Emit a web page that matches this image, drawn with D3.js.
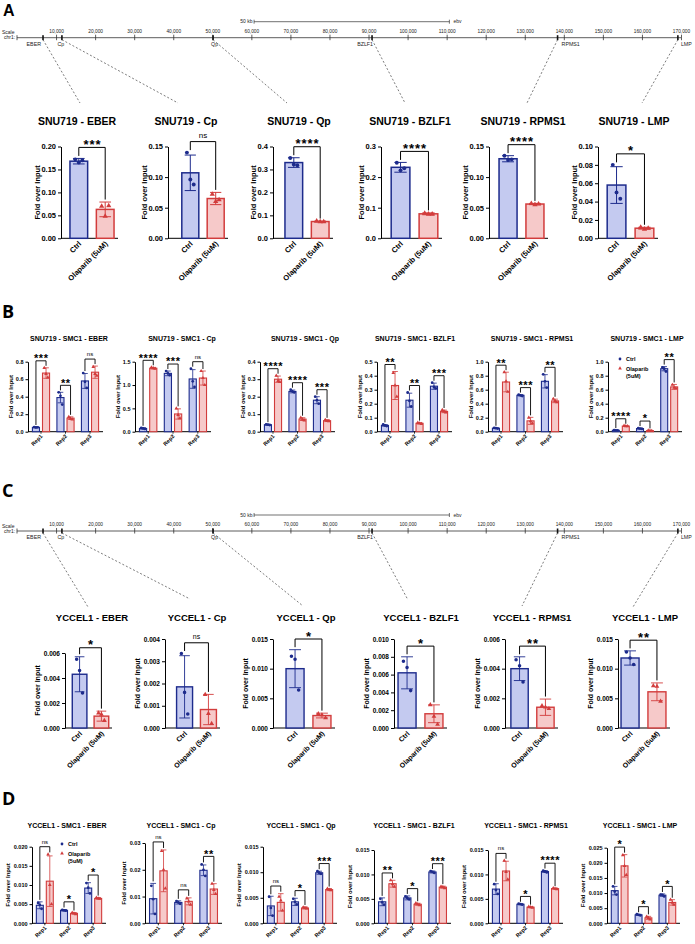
<!DOCTYPE html>
<html>
<head>
<meta charset="utf-8">
<script src="https://cdn.jsdelivr.net/npm/d3@7/dist/d3.min.js"></script>
<style>
  body { margin: 0; background: #fff; }
  svg text { font-family: "Liberation Sans", Arial, Helvetica, sans-serif; }
</style>
</head>
<body>
<svg id="fig" width="695" height="944"></svg>
<script>
// ---- genome track ----
const genes = ["EBER", "Cp", "Qp", "BZLF1", "RPMS1", "LMP"];
const genePos = [6660, 11500, 50200, 90900, 138400, 169200];
const trackTicks = [10000, 20000, 30000, 40000, 50000, 60000, 70000, 80000, 90000,
  100000, 110000, 120000, 130000, 140000, 150000, 160000, 170000];
const scaleBar = [60700, 110700];

const conditions = ["Ctrl", "Olaparib (5uM)"];
const reps = ["Rep1", "Rep2", "Rep3"];

// ---- A: SNU719 ChIP ----
const aMax = [0.20, 0.15, 0.4, 0.3, 0.15, 0.10];
const aStep = [0.05, 0.05, 0.1, 0.1, 0.05, 0.02];
const aCtrlMean = [0.168, 0.107, 0.330, 0.232, 0.130, 0.058];
const aCtrlSd = [0.006, 0.029, 0.021, 0.016, 0.005, 0.020];
const aCtrlPts = [[0.172, 0.165, 0.170], [0.140, 0.096, 0.088], [0.350, 0.322, 0.318],
  [0.247, 0.222, 0.229], [0.135, 0.128, 0.129], [0.080, 0.050, 0.043]];
const aOlapMean = [0.063, 0.065, 0.073, 0.080, 0.056, 0.011];
const aOlapSd = [0.016, 0.010, 0.002, 0.003, 0.001, 0.001];
const aOlapPts = [[0.070, 0.048, 0.071], [0.072, 0.060, 0.063], [0.075, 0.072, 0.072],
  [0.082, 0.079, 0.079], [0.057, 0.055, 0.056], [0.012, 0.010, 0.011]];
const aSig = ["***", "ns", "****", "****", "****", "*"];

// ---- B: SNU719 SMC1 ----
const bMax = [0.8, 1.5, 0.4, 0.5, 1.0, 1.0];
const bStep = [0.2, 0.5, 0.1, 0.1, 0.2, 0.2];
const bCtrlMean = [[0.05, 0.39, 0.58], [0.07, 1.25, 1.13], [0.04, 0.23, 0.18],
  [0.045, 0.225, 0.325], [0.05, 0.52, 0.72], [0.02, 0.045, 0.90]];
const bCtrlSd = [[0.004, 0.06, 0.085], [0.015, 0.05, 0.20], [0.003, 0.008, 0.02],
  [0.006, 0.05, 0.022], [0.006, 0.01, 0.095], [0.003, 0.007, 0.03]];
const bCtrlPts = [
  [[0.052, 0.048, 0.050], [0.45, 0.41, 0.31], [0.67, 0.57, 0.50]],
  [[0.08, 0.07, 0.06], [1.30, 1.25, 1.21], [1.35, 1.08, 0.96]],
  [[0.042, 0.040, 0.038], [0.24, 0.23, 0.225], [0.20, 0.18, 0.16]],
  [[0.052, 0.045, 0.040], [0.28, 0.22, 0.18], [0.35, 0.32, 0.31]],
  [[0.055, 0.050, 0.045], [0.53, 0.52, 0.51], [0.82, 0.72, 0.63]],
  [[0.022, 0.020, 0.018], [0.050, 0.045, 0.040], [0.92, 0.90, 0.86]]];
const bOlapMean = [[0.67, 0.155, 0.68], [1.36, 0.38, 1.15], [0.30, 0.072, 0.063],
  [0.33, 0.06, 0.145], [0.71, 0.155, 0.44], [0.08, 0.015, 0.64]];
const bOlapSd = [[0.06, 0.015, 0.07], [0.015, 0.11, 0.15], [0.018, 0.008, 0.005],
  [0.10, 0.005, 0.009], [0.14, 0.05, 0.025], [0.005, 0.004, 0.035]];
const bOlapPts = [
  [[0.73, 0.66, 0.62], [0.17, 0.15, 0.14], [0.74, 0.66, 0.64]],
  [[1.38, 1.36, 1.35], [0.50, 0.36, 0.29], [1.30, 1.15, 1.00]],
  [[0.32, 0.29, 0.285], [0.080, 0.070, 0.065], [0.068, 0.062, 0.060]],
  [[0.42, 0.33, 0.25], [0.065, 0.060, 0.055], [0.155, 0.145, 0.138]],
  [[0.85, 0.72, 0.57], [0.20, 0.15, 0.12], [0.47, 0.44, 0.42]],
  [[0.085, 0.080, 0.078], [0.018, 0.015, 0.012], [0.67, 0.63, 0.62]]];
const bSig = [["***", "**", "ns"], ["****", "***", "ns"], ["****", "****", "***"],
  ["**", "**", "***"], ["**", "***", "**"], ["****", "*", "**"]];

// ---- C: YCCEL1 ChIP ----
const cMax = [0.006, 0.004, 0.015, 0.010, 0.006, 0.015];
const cStep = [0.002, 0.001, 0.005, 0.002, 0.002, 0.005];
const cCtrlMean = [0.0043, 0.00185, 0.0100, 0.0062, 0.0040, 0.0118];
const cCtrlSd = [0.0014, 0.0014, 0.0032, 0.0018, 0.0008, 0.0012];
const cCtrlPts = [[0.0055, 0.0046, 0.0028], [0.00335, 0.0016, 0.00063], [0.0121, 0.0116, 0.0064],
  [0.0075, 0.0068, 0.0042], [0.0046, 0.0042, 0.0031], [0.0128, 0.0118, 0.0107]];
const cOlapMean = [0.00095, 0.00083, 0.0021, 0.0016, 0.0014, 0.0061];
const cOlapSd = [0.0004, 0.00068, 0.0004, 0.0010, 0.00055, 0.0015];
const cOlapPts = [[0.0012, 0.0011, 0.0006], [0.0015, 0.00065, 0.0002], [0.0024, 0.0022, 0.0017],
  [0.0026, 0.0013, 0.0004], [0.0015, 0.0014, 0.0013], [0.0071, 0.0070, 0.0045]];
const cSig = ["*", "ns", "*", "*", "**", "**"];

// ---- D: YCCEL1 SMC1 ----
const dMax = [0.020, 0.03, 0.015, 0.015, 0.015, 0.025];
const dStep = [0.005, 0.01, 0.005, 0.005, 0.005, 0.005];
const dCtrlMean = [[0.0047, 0.0034, 0.0092], [0.0092, 0.0078, 0.0198], [0.0034, 0.0042, 0.0099],
  [0.0044, 0.0052, 0.0105], [0.0070, 0.0039, 0.0106], [0.0108, 0.0028, 0.0093]];
const dCtrlSd = [[0.0009, 0.0002, 0.0014], [0.0057, 0.0006, 0.0020], [0.0019, 0.0007, 0.0003],
  [0.0008, 0.0004, 0.0002], [0.0011, 0.0001, 0.0002], [0.0014, 0.0002, 0.0004]];
const dCtrlPts = [
  [[0.0053, 0.0048, 0.0038], [0.0035, 0.0034, 0.0033], [0.0105, 0.0093, 0.0078]],
  [[0.0140, 0.0090, 0.0035], [0.0083, 0.0078, 0.0073], [0.0220, 0.0200, 0.0177]],
  [[0.0052, 0.0030, 0.0015], [0.0048, 0.0042, 0.0037], [0.0102, 0.0099, 0.0097]],
  [[0.0050, 0.0043, 0.0038], [0.0055, 0.0052, 0.0049], [0.0107, 0.0105, 0.0103]],
  [[0.0080, 0.0068, 0.0060], [0.0040, 0.0039, 0.0038], [0.0108, 0.0106, 0.0104]],
  [[0.0122, 0.0105, 0.0095], [0.0030, 0.0028, 0.0026], [0.0095, 0.0094, 0.0089]]];
const dOlapMean = [[0.0110, 0.0026, 0.0065], [0.0196, 0.0082, 0.0128], [0.0041, 0.0030, 0.0066],
  [0.0081, 0.0039, 0.0074], [0.0107, 0.0033, 0.0071], [0.0190, 0.0018, 0.0069]];
const dOlapSd = [[0.0066, 0.0002, 0.0002], [0.0078, 0.0013, 0.0020], [0.0017, 0.0002, 0.0002],
  [0.0007, 0.0002, 0.0002], [0.0020, 0.0001, 0.0001], [0.0037, 0.0005, 0.0009]];
const dOlapPts = [
  [[0.0180, 0.0100, 0.0050], [0.0028, 0.0026, 0.0024], [0.0067, 0.0065, 0.0064]],
  [[0.0270, 0.0200, 0.0130], [0.0093, 0.0082, 0.0070], [0.0148, 0.0125, 0.0110]],
  [[0.0052, 0.0045, 0.0025], [0.0031, 0.0030, 0.0029], [0.0068, 0.0066, 0.0065]],
  [[0.0088, 0.0080, 0.0075], [0.0041, 0.0039, 0.0037], [0.0075, 0.0074, 0.0072]],
  [[0.0128, 0.0105, 0.0090], [0.0034, 0.0033, 0.0032], [0.0072, 0.0071, 0.0070]],
  [[0.0225, 0.0190, 0.0160], [0.0022, 0.0018, 0.0013], [0.0078, 0.0068, 0.0062]]];
const dSig = [["ns", "*", "*"], ["ns", "ns", "**"], ["ns", "*", "***"],
  ["**", "*", "***"], ["ns", "*", "****"], ["*", "*", "*"]];

// ---- styles / layout ----
const ctrlCol = { fill: "#c4caf0", stroke: "#1d2b8c" };
const olapCol = { fill: "#f6c9c9", stroke: "#d23c3c" };
const svg = d3.select("#fig");
const tx = d3.scaleLinear().domain([0, 170000]).range([17, 681]);
const dec = s => Math.max(0, Math.ceil(-Math.log10(s) - 1e-9));

const layA = {
  trackY: 37.7, links: [[80, 103], [178, 103], [287, 103], [405, 103], [527, 103], [642, 103]],
  titleY: 125, titleX: [77, 186, 299, 410, 523, 634],
  axisX: [61, 168, 273, 381, 489, 598], bandL: [66, 178, 281, 387, 495, 603],
  bandR: [118, 228, 333, 442, 548, 658], top: [146.5, 146.5, 146.5, 146.5, 146.5, 146.5], bottom: 238.3,
  fs: { title: 10.5, tick: 7.5, ylab: 7.5, xlab: 7.5, star: 13, ns: 8, ls: 1 }, ygap: 1.5,
  st: { bar: 1.5, err: 1, cap: 0.33, pt: 12, jit: 0.2, gap: 2.5, brk: 1, tick: 3, starOff: 1.5, nsOff: 4 }
};
const layB = {
  titleY: 341, titleX: [69, 182, 305, 415, 532, 647],
  axisX: [28, 135, 260, 377, 488, 608], endX: [103, 211, 335, 452, 563, 682],
  top: [361.7, 361.7, 361.7, 361.7, 361.7, 361.7], bottom: 431.7,
  fs: { title: 7, tick: 5.5, ylab: 6, xlab: 5.5, star: 11, ns: 6, ls: 0.6 }, ygap: 3,
  st: { bar: 1.1, err: 0.8, cap: 0.4, pt: 6, jit: 0.25, gap: 2, brk: 0.9, tick: 2.5, starOff: 1.3, nsOff: 3 },
  legend: { i: 5, x: 620, y: 359 }
};
const layC = {
  trackY: 531, links: [[88, 607], [190, 599], [303, 606], [408, 600], [522, 606], [633, 607]],
  titleY: 621, titleX: [92, 197, 306, 421, 532, 645],
  axisX: [65, 165, 273, 394, 505, 618], bandL: [69, 173, 282, 394, 507, 617],
  bandR: [112, 220, 335, 447, 558, 670], top: [653, 639, 639, 639, 639, 639], bottom: 728,
  fs: { title: 9.5, tick: 6.5, ylab: 7, xlab: 7, star: 13, ns: 7, ls: 1 }, ygap: 4,
  st: { bar: 1.4, err: 0.9, cap: 0.33, pt: 10, jit: 0.2, gap: 2.5, brk: 1, tick: 3, starOff: 1.5, nsOff: 4 }
};
const layD = {
  titleY: 828, titleX: [67, 181, 301, 414, 526, 640],
  axisX: [32, 145, 263, 374, 488, 607], endX: [106, 222, 337, 451, 563, 680],
  top: [846.7, 843, 846.7, 850, 850, 847.7], bottom: 923.3,
  fs: { title: 7, tick: 5.5, ylab: 6, xlab: 5.5, star: 11, ns: 6, ls: 0.6 }, ygap: 4,
  st: { bar: 1.1, err: 0.8, cap: 0.4, pt: 6, jit: 0.25, gap: 2, brk: 0.9, tick: 2.5, starOff: 1.3, nsOff: 3 },
  legend: { i: 0, x: 62, y: 844 }
};

// ---- helpers ----
function drawTrack(L) {
  const ly = L.trackY;
  const g = svg.append("g").attr("fill", "#222");
  g.append("text").attr("x", 2).attr("y", ly - 3.5).attr("font-size", 5).text("Scale");
  g.append("text").attr("x", 4).attr("y", ly + 1.6).attr("font-size", 5).text("chr1:");
  const sy = ly - 16, s0 = tx(scaleBar[0]), s1 = tx(scaleBar[1]);
  g.append("path").attr("d", `M${s0},${sy - 2}V${sy + 2}M${s0},${sy}H${s1}M${s1},${sy - 2}V${sy + 2}`)
    .attr("stroke", "#333").attr("stroke-width", 0.7).attr("fill", "none");
  g.append("text").attr("x", s0 - 1.5).attr("y", sy + 1.7).attr("text-anchor", "end").attr("font-size", 5).text("50 kb");
  g.append("text").attr("x", s1 + 4).attr("y", sy + 1.7).attr("font-size", 5).text("ebv");

  g.append("path").attr("d", `M17,${ly - 2.5}V${ly + 2.5}M17,${ly}H681`)
    .attr("stroke", "#333").attr("stroke-width", 0.8).attr("fill", "none");
  const ax = g.append("g").attr("transform", `translate(0,${ly})`)
    .call(d3.axisTop(tx).tickValues(trackTicks).tickSize(3).tickPadding(2).tickFormat(d3.format(",")));
  ax.select(".domain").remove();
  ax.selectAll(".tick line").attr("y1", 2.5).attr("stroke", "#333").attr("stroke-width", 0.8);
  ax.selectAll(".tick text").attr("font-size", 4.8).attr("font-family", null).attr("fill", "#222");

  const anchor = ["end", "middle", "start", "end", "start", "start"];
  const dx = [-2, -1, -2, 1, 4, 3];
  genes.forEach((gname, i) => {
    const gx = tx(genePos[i]);
    g.append("rect").attr("x", gx - 0.8).attr("y", ly - 2.5).attr("width", 1.6).attr("height", 5).attr("fill", "#111");
    g.append("text").attr("x", gx + dx[i]).attr("y", ly + 8).attr("text-anchor", anchor[i])
      .attr("font-size", 5.3).text(gname);
    g.append("line").attr("x1", gx).attr("y1", ly + 2).attr("x2", L.links[i][0]).attr("y2", L.links[i][1])
      .attr("stroke", "#444").attr("stroke-width", 0.7).attr("stroke-dasharray", "2,2");
  });
}

function yAxis(g, y, i, max, step, L) {
  const ax = g.append("g").attr("transform", `translate(${L.axisX[i]},0)`)
    .call(d3.axisLeft(y).tickValues(d3.range(0, max + step / 2, step))
      .tickSize(L.st.tick).tickSizeOuter(0).tickPadding(2).tickFormat(d3.format(`.${dec(step)}f`)));
  ax.select(".domain").attr("stroke-width", 1);
  ax.selectAll(".tick line").attr("stroke-width", 1);
  ax.selectAll(".tick text").attr("font-size", L.fs.tick).attr("font-weight", "bold").attr("font-family", null);
  const bb = ax.node().getBBox();
  const lx = L.axisX[i] + bb.x - L.ygap;
  g.append("text").attr("transform", `translate(${lx},${(L.bottom + L.top[i]) / 2}) rotate(-90)`)
    .attr("text-anchor", "middle").attr("font-size", L.fs.ylab).attr("font-weight", "bold").text("Fold over Input");
}

function drawBar(g, y, xl, bw, k, mean, sd, pts, st) {
  const c = k === 0 ? ctrlCol : olapCol;
  g.append("rect").attr("x", xl).attr("y", y(mean)).attr("width", bw).attr("height", y(0) - y(mean))
    .attr("fill", c.fill).attr("stroke", c.stroke).attr("stroke-width", st.bar);
  const cx = xl + bw / 2, cw = bw * st.cap;
  const yt = y(mean + sd), yb = y(Math.max(0, mean - sd));
  g.append("path").attr("d", `M${cx},${yb}V${yt}M${cx - cw},${yt}H${cx + cw}M${cx - cw},${yb}H${cx + cw}`)
    .attr("fill", "none").attr("stroke", c.stroke).attr("stroke-width", st.err);
  const sym = d3.symbol().type(k === 0 ? d3.symbolCircle : d3.symbolTriangle).size(st.pt);
  g.selectAll(null).data(pts).join("path")
    .attr("transform", (d, j) => `translate(${cx + (j - 1) * bw * st.jit},${y(d)})`)
    .attr("d", sym).attr("fill", c.stroke);
  return Math.max(mean + sd, d3.max(pts));
}

function drawBracket(g, y, xa, xb, ta, tb, level, label, L) {
  const st = L.st, yl = y(level);
  g.append("path").attr("d", `M${xa},${y(ta) - st.gap}V${yl}H${xb}V${y(tb) - st.gap}`)
    .attr("fill", "none").attr("stroke", "#000").attr("stroke-width", st.brk);
  const ns = label === "ns";
  g.append("text").attr("x", (xa + xb) / 2 + (ns ? 0 : L.fs.ls / 2)).attr("y", ns ? yl - st.nsOff : yl + st.starOff)
    .attr("text-anchor", "middle").attr("font-size", ns ? L.fs.ns : L.fs.star)
    .attr("font-weight", ns ? "normal" : "bold").attr("letter-spacing", ns ? 0 : L.fs.ls).text(label);
}

function xLabel(g, x, yb, text, fs) {
  g.append("text").attr("transform", `translate(${x},${yb}) rotate(-45)`).attr("text-anchor", "end")
    .attr("font-size", fs).attr("font-weight", "bold").text(text);
}

function pairChart(i, L, title, max, step, cm, cs, cp, om, os, op, sig) {
  const g = svg.append("g");
  const y = d3.scaleLinear().domain([0, max[i]]).range([L.bottom, L.top[i]]);
  const x = d3.scaleBand().domain(conditions).range([L.bandL[i], L.bandR[i]]).paddingInner(0.33).paddingOuter(0.15);
  g.append("text").attr("x", L.titleX[i]).attr("y", L.titleY).attr("text-anchor", "middle")
    .attr("font-size", L.fs.title).attr("font-weight", "bold").text(title);
  yAxis(g, y, i, max[i], step[i], L);
  g.append("line").attr("x1", L.axisX[i]).attr("x2", L.bandR[i]).attr("y1", L.bottom).attr("y2", L.bottom)
    .attr("stroke", "#000").attr("stroke-width", 1);
  const series = [[cm[i], cs[i], cp[i]], [om[i], os[i], op[i]]];
  const tops = series.map((s, k) => drawBar(g, y, x(conditions[k]), x.bandwidth(), k, s[0], s[1], s[2], L.st));
  const xc = conditions.map(c => x(c) + x.bandwidth() / 2);
  drawBracket(g, y, xc[0], xc[1], tops[0], tops[1], d3.max(tops) + 0.12 * max[i], sig[i], L);
  conditions.forEach((c, k) => xLabel(g, xc[k] + 3, L.bottom + 6, c, L.fs.xlab));
}

function groupChart(i, L, title, max, step, cm, cs, cp, om, os, op, sig) {
  const g = svg.append("g");
  const y = d3.scaleLinear().domain([0, max[i]]).range([L.bottom, L.top[i]]);
  const x0 = d3.scaleBand().domain(reps).range([L.axisX[i], L.endX[i]]).paddingInner(0.3).paddingOuter(0.18);
  const x1 = d3.scaleBand().domain(conditions).range([0, x0.bandwidth()]).paddingInner(0.3);
  g.append("text").attr("x", L.titleX[i]).attr("y", L.titleY).attr("text-anchor", "middle")
    .attr("font-size", L.fs.title).attr("font-weight", "bold").text(title);
  yAxis(g, y, i, max[i], step[i], L);
  g.append("line").attr("x1", L.axisX[i]).attr("x2", L.endX[i]).attr("y1", L.bottom).attr("y2", L.bottom)
    .attr("stroke", "#000").attr("stroke-width", 1);
  reps.forEach((r, j) => {
    const series = [[cm[i][j], cs[i][j], cp[i][j]], [om[i][j], os[i][j], op[i][j]]];
    const tops = series.map((s, k) => drawBar(g, y, x0(r) + x1(conditions[k]), x1.bandwidth(), k, s[0], s[1], s[2], L.st));
    const xc = conditions.map(c => x0(r) + x1(c) + x1.bandwidth() / 2);
    drawBracket(g, y, xc[0], xc[1], tops[0], tops[1], d3.max(tops) + 0.1 * max[i], sig[i][j], L);
    const gc = x0(r) + x0.bandwidth() / 2;
    g.append("line").attr("x1", gc).attr("x2", gc).attr("y1", L.bottom).attr("y2", L.bottom + 2)
      .attr("stroke", "#000").attr("stroke-width", 0.8);
    xLabel(g, gc + 2, L.bottom + 5, r, L.fs.xlab);
  });
  if (L.legend && L.legend.i === i) {
    const lg = svg.append("g").attr("font-size", 5.5).attr("font-weight", "bold");
    const lx = L.legend.x, ly = L.legend.y;
    lg.append("path").attr("transform", `translate(${lx},${ly})`).attr("d", d3.symbol(d3.symbolCircle, 6)).attr("fill", ctrlCol.stroke);
    lg.append("text").attr("x", lx + 6).attr("y", ly + 2).text(conditions[0]);
    lg.append("path").attr("transform", `translate(${lx},${ly + 9.5})`).attr("d", d3.symbol(d3.symbolTriangle, 6)).attr("fill", olapCol.stroke);
    lg.append("text").attr("x", lx + 6).attr("y", ly + 11.5).text("Olaparib");
    lg.append("text").attr("x", lx + 6).attr("y", ly + 18.5).text("(5uM)");
  }
}

// ---- panel letters ----
svg.append("text").attr("x", 3).attr("y", 15.5).attr("font-size", 16).attr("font-weight", "bold").text("A");
[["B", 318], ["C", 497], ["D", 805]].forEach(([t, yy]) =>
  svg.append("text").attr("x", 2).attr("y", yy).attr("font-size", 18).attr("font-weight", "bold")
    .style("font-family", '"Open Sans", sans-serif').text(t));

// ---- draw ----
drawTrack(layA);
drawTrack(layC);
genes.forEach((gname, i) => {
  pairChart(i, layA, "SNU719 - " + gname, aMax, aStep, aCtrlMean, aCtrlSd, aCtrlPts, aOlapMean, aOlapSd, aOlapPts, aSig);
  groupChart(i, layB, "SNU719 - SMC1 - " + gname, bMax, bStep, bCtrlMean, bCtrlSd, bCtrlPts, bOlapMean, bOlapSd, bOlapPts, bSig);
  pairChart(i, layC, "YCCEL1 - " + gname, cMax, cStep, cCtrlMean, cCtrlSd, cCtrlPts, cOlapMean, cOlapSd, cOlapPts, cSig);
  groupChart(i, layD, "YCCEL1 - SMC1 - " + gname, dMax, dStep, dCtrlMean, dCtrlSd, dCtrlPts, dOlapMean, dOlapSd, dOlapPts, dSig);
});
</script>
</body>
</html>
